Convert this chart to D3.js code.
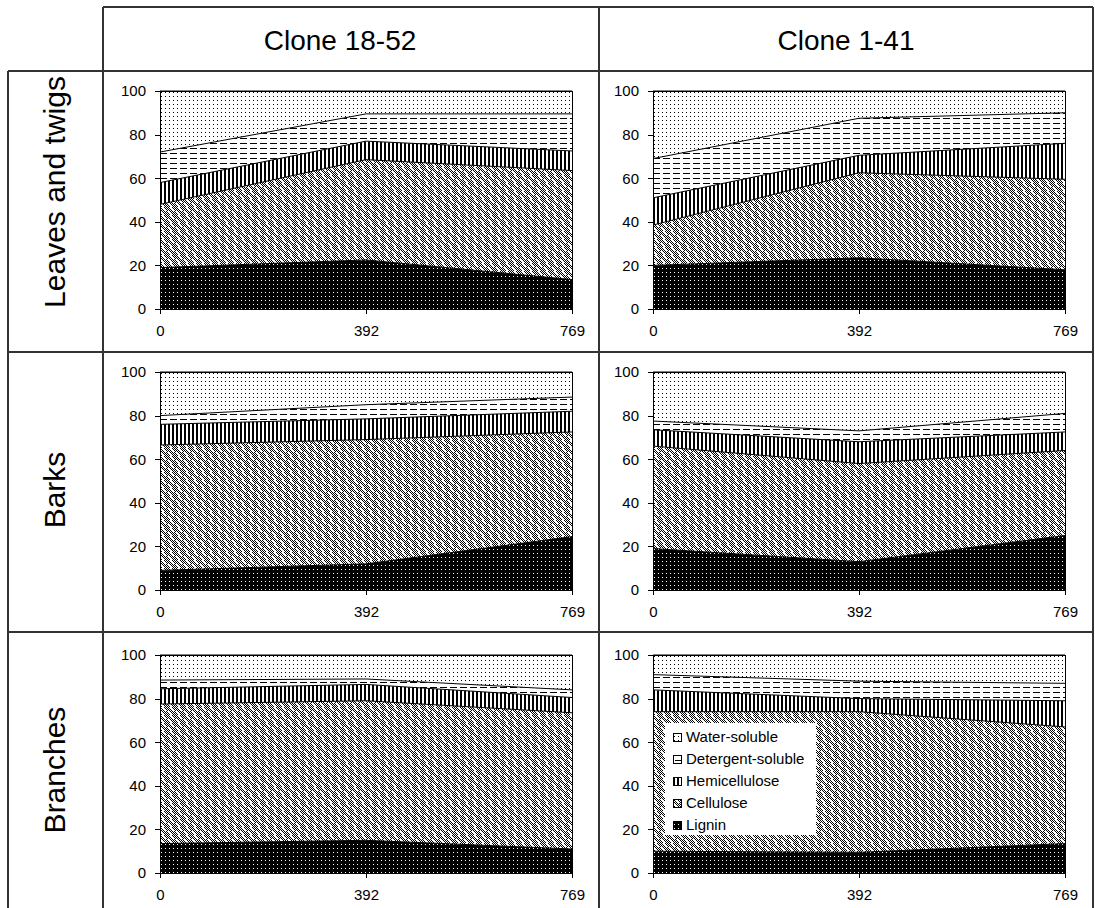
<!DOCTYPE html>
<html><head><meta charset="utf-8">
<script src="https://cdn.jsdelivr.net/npm/d3@7"></script>
<style>
html,body{margin:0;padding:0;background:#fff;}
text{font-family:"Liberation Sans",Arial,sans-serif;fill:#000;}
</style></head>
<body><svg id="c" width="1095" height="908"></svg>
<script>
// ---------------- data ----------------
const clones = ["Clone 18-52", "Clone 1-41"];
const tissues = ["Leaves and twigs", "Barks", "Branches"];
const days = ["0", "392", "769"];
const components = ["Lignin", "Cellulose", "Hemicellulose", "Detergent-soluble", "Water-soluble"];
const yTicks = [0, 20, 40, 60, 80, 100];
// panel order: leaves 18-52, leaves 1-41, barks 18-52, barks 1-41, branches 18-52, branches 1-41
const lignin        = [[19, 22.5, 13.5], [20, 23.5, 18], [9, 12, 24.5], [19, 13, 25], [13.5, 15, 11], [10, 9.5, 13.5]];
const cellulose     = [[29, 46, 50], [18.5, 39, 41.5], [57.5, 57, 48], [47, 45, 39], [64, 64, 62.5], [64, 64.5, 53.5]];
const hemicellulose = [[10, 8.5, 9], [12.5, 8, 16.5], [9.5, 9.5, 9.5], [7.5, 10, 8.5], [7, 7.5, 7], [10, 6, 12]];
const detergent     = [[14, 12.5, 17], [18, 17, 14], [4, 6.5, 6.5], [4, 5, 8.5], [4, 2.5, 3.5], [7, 8, 8]];
const water         = [[28, 10.5, 10.5], [31, 12.5, 10], [20, 15, 11.5], [22.5, 27, 19], [11.5, 11, 16], [9, 12, 13]];
const seriesArrays = [lignin, cellulose, hemicellulose, detergent, water];

// ---------------- layout ----------------
const svg = d3.select("#c");
const defs = svg.append("defs");
const patIds = ["p-lig", "p-cel", "p-hem", "p-det", "p-wat"];

function pattern(id, w, h) {
  return defs.append("pattern").attr("id", id).attr("patternUnits", "userSpaceOnUse")
    .attr("width", w).attr("height", h).attr("shape-rendering", "crispEdges");
}
// water-soluble: sparse dots
let p = pattern("p-wat", 4, 4);
p.append("rect").attr("width", 4).attr("height", 4).attr("fill", "#fff");
p.append("rect").attr("x", 1).attr("y", 1).attr("width", 1).attr("height", 1).attr("fill", "#000");
// detergent: horizontal dashes
p = pattern("p-det", 10, 5);
p.append("rect").attr("width", 10).attr("height", 5).attr("fill", "#fff");
p.append("rect").attr("x", 0).attr("y", 2).attr("width", 7).attr("height", 1).attr("fill", "#000");
// hemicellulose: vertical stripes
p = pattern("p-hem", 4, 4);
p.append("rect").attr("width", 4).attr("height", 4).attr("fill", "#fff");
p.append("rect").attr("x", 0).attr("y", 0).attr("width", 2).attr("height", 4).attr("fill", "#000");
// cellulose: grey dither with white herringbone
p = pattern("p-cel", 8, 8);
p.append("rect").attr("width", 8).attr("height", 8).attr("fill", "#fff");
const triA = [0, 1, 2, 3, 3, 2, 1, 0];
const triB = [3, 2, 1, 0, 0, 1, 2, 3];
for (let x = 0; x < 8; x++) for (let y = 0; y < 8; y++) {
  const white = (y < 4 && y === triA[x]) || (y >= 4 && (y - 4) === triB[(x + 2) % 8]);
  if (white) continue;
  if ((x + y) % 2 === 0)
    p.append("rect").attr("x", x).attr("y", y).attr("width", 1).attr("height", 1).attr("fill", "#000");
}
// lignin: black with white dots
p = pattern("p-lig", 4, 4);
p.append("rect").attr("width", 4).attr("height", 4).attr("fill", "#000");
p.append("rect").attr("x", 1).attr("y", 1).attr("width", 1).attr("height", 1).attr("fill", "#fff");

// table grid
const gridColor = "#333";
const gl = svg.append("g").attr("stroke", gridColor).attr("stroke-width", 2).attr("shape-rendering", "crispEdges");
[[103, 7, 1093, 7], [8, 71, 1093, 71], [8, 352, 1093, 352], [8, 632, 1093, 632],
 [8, 71, 8, 908], [103, 7, 103, 908], [599, 7, 599, 908], [1093, 7, 1093, 908]]
  .forEach(([x1, y1, x2, y2]) => gl.append("line").attr("x1", x1).attr("y1", y1).attr("x2", x2).attr("y2", y2));

// headers
const headerX = [340, 846];
clones.forEach((c, i) => svg.append("text").attr("x", headerX[i]).attr("y", 50)
  .attr("text-anchor", "middle").attr("font-size", 28).text(c));
const rowLabelY = [192, 490, 770];
tissues.forEach((t, i) => svg.append("text")
  .attr("transform", `translate(65,${rowLabelY[i]}) rotate(-90)`)
  .attr("text-anchor", "middle").attr("font-size", 30).text(t));

// panels
const colX = [160, 653], rowY = [91, 372, 655];
const pw = 412, ph = 218;
const x = d3.scalePoint().domain(days).range([0, pw]);
const y = d3.scaleLinear().domain([0, 100]).range([ph, 0]);
const stack = d3.stack().keys(components);
const area = d3.area().x(d => x(d.data.day)).y0(d => y(d[0])).y1(d => y(d[1]));
const topLine = d3.line().x(d => x(d.data.day)).y(d => y(d[1]));

for (let r = 0; r < 3; r++) for (let c = 0; c < 2; c++) {
  const idx = r * 2 + c;
  const rows = days.map((day, j) => {
    const o = { day };
    components.forEach((k, s) => o[k] = seriesArrays[s][idx][j]);
    return o;
  });
  const series = stack(rows);
  const g = svg.append("g").attr("transform", `translate(${colX[c]},${rowY[r]})`);
  g.selectAll("path.a").data(series).join("path").attr("class", "a")
    .attr("d", area).attr("fill", (d, i) => `url(#${patIds[i]})`);
  g.selectAll("path.l").data(series).join("path").attr("class", "l")
    .attr("d", topLine).attr("fill", "none").attr("stroke", "#000").attr("stroke-width", 1);
  g.append("rect").attr("width", pw).attr("height", ph).attr("fill", "none")
    .attr("stroke", "#000").attr("stroke-width", 1).attr("shape-rendering", "crispEdges");
  const ya = g.append("g").call(d3.axisLeft(y).tickValues(yTicks).tickSize(5).tickSizeOuter(0).tickPadding(9));
  const xa = g.append("g").attr("transform", `translate(0,${ph})`)
    .call(d3.axisBottom(x).tickSize(5).tickSizeOuter(0).tickPadding(11));
  [ya, xa].forEach(a => {
    a.attr("shape-rendering", "crispEdges");
    a.selectAll("text").attr("font-size", 15).attr("font-family", '"Liberation Sans",Arial,sans-serif');
    a.selectAll("line,path").attr("stroke", "#000");
  });

  if (idx === 5) {
    const lg = g.append("g").attr("transform", "translate(12,68)");
    lg.append("rect").attr("width", 151).attr("height", 112).attr("fill", "#fff");
    const order = components.slice().reverse();
    order.forEach((k, i) => {
      const yy = 14 + i * 22;
      lg.append("rect").attr("x", 8).attr("y", yy - 4).attr("width", 8).attr("height", 8)
        .attr("fill", `url(#${patIds[components.indexOf(k)]})`).attr("stroke", "#000")
        .attr("shape-rendering", "crispEdges");
      lg.append("text").attr("x", 21).attr("y", yy).attr("dy", "0.35em")
        .attr("font-size", 15).text(k);
    });
  }
}
</script></body></html>
